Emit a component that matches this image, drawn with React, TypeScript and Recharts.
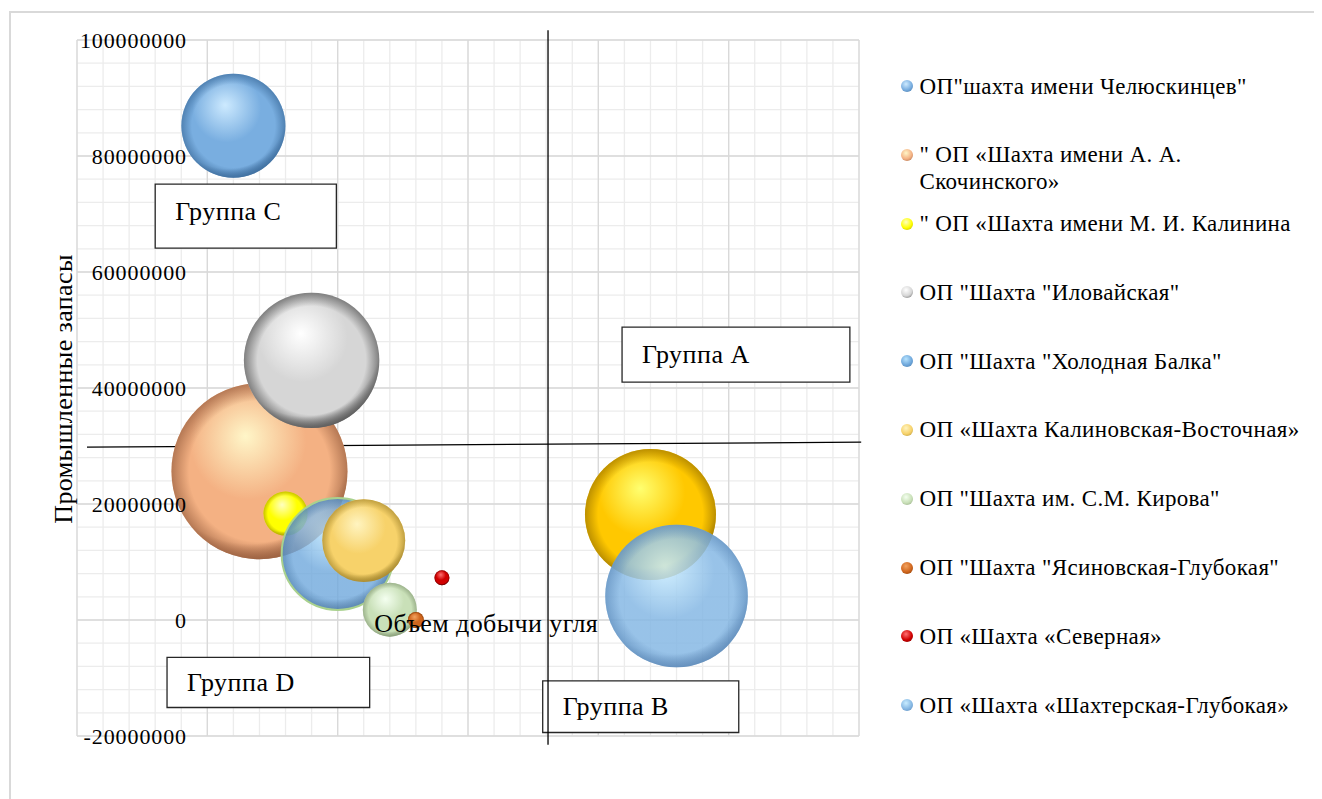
import React from "react";
import {
  ScatterChart,
  Scatter,
  XAxis,
  YAxis,
  ZAxis,
  CartesianGrid,
  ReferenceLine,
  ReferenceArea,
  ReferenceDot,
} from "recharts";

// mines (legend order)
const mineNames = [
  'ОП"шахта имени Челюскинцев"',
  '" ОП «Шахта имени А. А. Скочинского»',
  '" ОП «Шахта имени М. И. Калинина',
  'ОП "Шахта "Иловайская"',
  'ОП "Шахта "Холодная Балка"',
  "ОП «Шахта Калиновская-Восточная»",
  'ОП "Шахта им. С.М. Кирова"',
  'ОП "Шахта "Ясиновская-Глубокая"',
  "ОП «Шахта «Северная»",
  "ОП «Шахта «Шахтерская-Глубокая»",
];
// объем добычи угля (x)
const coalOutput = [100000, 200000, 300000, 400000, 500000, 600000, 700000, 800000, 900000, 1800000];
// промышленные запасы (y)
const reserves = [85200000, 25650000, 18350000, 44760000, 11390000, 13690000, 1780000, 0, 7300000, 4140000];
// bubble size
const bubbleValue = [1745, 5000, 313, 2960, 2025, 1110, 470, 41, 36, 3280];

// the gold bubble on the right has no legend entry
const extraOutput = [1700000];
const extraReserves = [18180000];
const extraValue = [2770];

const X_DOMAIN = [-500000, 2500000];
const Y_DOMAIN = [-20000000, 100000000];
const xMajorTicks = [-500000, 0, 500000, 1000000, 1500000, 2000000, 2500000];
const yMajorTicks = [-20000000, 0, 20000000, 40000000, 60000000, 80000000, 100000000];
const xMinorTicks = Array.from({ length: 31 }, (_, i) => -500000 + i * 100000);
const yMinorTicks = Array.from({ length: 31 }, (_, i) => -20000000 + i * 4000000);

const groupLabels = ["Группа C", "Группа A", "Группа D", "Группа B"];
const groupBoxes = [
  { x1: -200000, x2: 495000, y1: 64100000, y2: 75140000, dy: -5 },
  { x1: 1591000, x2: 2465000, y1: 41010000, y2: 50510000, dy: 0 },
  { x1: -154600, x2: 622800, y1: -15090000, y2: -6460000, dy: 0 },
  { x1: 1286600, x2: 2038700, y1: -19400000, y2: -10480000, dy: 0 },
];

const splitLines = [
  [{ x: 1307000, y: 101700000 }, { x: 1307000, y: -21500000 }],
  [{ x: -461600, y: 29790000 }, { x: 2508400, y: 30660000 }],
];

type Shade = { hi: string; base: string; edge: string; opacity?: number; stroke?: string };

const shades: Shade[] = [
  { hi: "#cdeaff", base: "#79aee0", edge: "#3f6f9f" },
  { hi: "#fff6c8", base: "#f4b183", edge: "#9a6040" },
  { hi: "#ffffc0", base: "#ffff00", edge: "#b0a800" },
  { hi: "#ffffff", base: "#d6d6d6", edge: "#5a5a5a" },
  { hi: "#b8e4ff", base: "#6fa8dc", edge: "#4a7aa8", opacity: 0.8, stroke: "#a9d18e" },
  { hi: "#fff4c0", base: "#f7d26a", edge: "#a88a30" },
  { hi: "#f4fff0", base: "#c9e0b8", edge: "#8aa07a" },
  { hi: "#f3a35f", base: "#d0661e", edge: "#7a3500" },
  { hi: "#ff7070", base: "#d00000", edge: "#6a0000" },
  { hi: "#c8ecff", base: "#86b8e4", edge: "#5a88b8", opacity: 0.85 },
];
const extraShade: Shade = { hi: "#ffff70", base: "#ffc800", edge: "#a07800" };

const FONT = "'Liberation Serif', 'Times New Roman', serif";
const MAX_R = 88;

function Bubble(props: any) {
  const { cx, cy, width, size, shade, id } = props;
  const r = typeof width === "number" ? width / 2 : Math.sqrt((size || 0) / Math.PI);
  const op = shade.opacity ?? 1;
  return (
    <g>
      <defs>
        <radialGradient id={id} cx="45%" cy="36%" r="66%" fx="42%" fy="30%">
          <stop offset="0%" stopColor={shade.hi} />
          <stop offset="50%" stopColor={shade.base} />
          <stop offset="85%" stopColor={shade.base} />
          <stop offset="100%" stopColor={shade.edge} />
        </radialGradient>
        <radialGradient id={`${id}-rim`} cx="50%" cy="50%" r="50%">
          <stop offset="80%" stopColor={shade.edge} stopOpacity={0} />
          <stop offset="100%" stopColor={shade.edge} stopOpacity={0.7} />
        </radialGradient>
      </defs>
      <circle cx={cx} cy={cy} r={r} fill={`url(#${id})`} fillOpacity={op} />
      <circle
        cx={cx}
        cy={cy}
        r={r}
        fill={`url(#${id}-rim)`}
        fillOpacity={op}
        stroke={shade.stroke ?? "none"}
        strokeWidth={shade.stroke ? 2 : 0}
      />
    </g>
  );
}

function NoTick() {
  return <g />;
}

function YTick({ x, y, payload }: any) {
  return (
    <text
      x={x + 110}
      y={y}
      textAnchor="end"
      dominantBaseline="central"
      fontFamily={FONT}
      fontSize={22}
      letterSpacing={0.9}
      fill="#000"
    >
      {payload.value}
    </text>
  );
}

function YTitle({ viewBox }: any) {
  const x = viewBox.x + viewBox.width - 14;
  const y = viewBox.y + viewBox.height / 2 + 1;
  return (
    <text
      x={x}
      y={y}
      transform={`rotate(-90 ${x} ${y})`}
      textAnchor="middle"
      dominantBaseline="central"
      fontFamily={FONT}
      fontSize={26}
      letterSpacing={0.4}
      fill="#000"
    >
      Промышленные запасы
    </text>
  );
}

function GroupLabel({ viewBox, value, dy }: any) {
  return (
    <text
      x={viewBox.x + 20}
      y={viewBox.y + viewBox.height / 2 + dy}
      dominantBaseline="central"
      fontFamily={FONT}
      fontSize={26}
      letterSpacing={0.5}
      fill="#000"
    >
      {value}
    </text>
  );
}

function markerBg(s: Shade) {
  return `radial-gradient(circle at 42% 34%, ${s.hi} 0%, ${s.base} 55%, ${s.edge} 100%)`;
}

// minor gridline positions through the axis scale (falls back to the plot box)
function minorX({ xAxis, offset }: any) {
  if (xAxis && typeof xAxis.scale === "function") return xMinorTicks.map((v) => xAxis.scale(v));
  return xMinorTicks.map((v) => offset.left + ((v - X_DOMAIN[0]) / (X_DOMAIN[1] - X_DOMAIN[0])) * offset.width);
}
function minorY({ yAxis, offset }: any) {
  if (yAxis && typeof yAxis.scale === "function") return yMinorTicks.map((v) => yAxis.scale(v));
  return yMinorTicks.map(
    (v) => offset.top + offset.height - ((v - Y_DOMAIN[0]) / (Y_DOMAIN[1] - Y_DOMAIN[0])) * offset.height
  );
}

export default function App() {
  const series = mineNames.map((name, i) => ({
    name,
    shade: shades[i],
    data: [{ x: coalOutput[i], y: reserves[i], z: bubbleValue[i] }],
  }));
  const extra = extraOutput.map((x, i) => ({ x, y: extraReserves[i], z: extraValue[i] }));

  const renderSeries = (s: { name: string; shade: Shade; data: any[] }, key: string) => (
    <Scatter
      key={key}
      name={s.name}
      data={s.data}
      xAxisId="x"
      yAxisId="y"
      isAnimationActive={false}
      shape={(p: any) => <Bubble {...p} shade={s.shade} id={`grad-${key}`} />}
    />
  );

  return (
    <div style={{ position: "relative", width: 1314, height: 791, fontFamily: FONT }}>
      <div
        style={{
          position: "absolute",
          left: 1,
          top: 3,
          width: 1400,
          height: 900,
          borderLeft: "2px solid #d9d9d9",
          borderTop: "2px solid #d9d9d9",
          boxSizing: "border-box",
        }}
      />
      <div style={{ position: "absolute", left: 0, top: 0 }}>
        <ScatterChart width={1314} height={791} margin={{ top: 32, right: 463, bottom: 63, left: 0 }}>
          <XAxis
            xAxisId="x"
            type="number"
            dataKey="x"
            domain={X_DOMAIN}
            ticks={xMajorTicks}
            interval={0}
            height={0}
            tick={<NoTick />}
            axisLine={false}
            tickLine={false}
          />
          <YAxis
            yAxisId="y"
            type="number"
            dataKey="y"
            domain={Y_DOMAIN}
            ticks={yMajorTicks}
            interval={0}
            width={69}
            axisLine={false}
            tickLine={false}
            tickSize={0}
            tickMargin={0}
            tick={<YTick />}
            label={YTitle}
          />
          <ZAxis type="number" dataKey="z" domain={[0, 5000]} range={[0, Math.PI * MAX_R * MAX_R]} />
          <CartesianGrid
            xAxisId="x"
            yAxisId="y"
            stroke="#ececec"
            strokeWidth={1.3}
            verticalCoordinatesGenerator={minorX}
            horizontalCoordinatesGenerator={minorY}
          />
          <CartesianGrid xAxisId="x" yAxisId="y" stroke="#d9d9d9" strokeWidth={1.3} />

          {groupBoxes.map((b, i) => (
            <ReferenceArea
              key={groupLabels[i]}
              xAxisId="x"
              yAxisId="y"
              x1={b.x1}
              x2={b.x2}
              y1={b.y1}
              y2={b.y2}
              fill="#ffffff"
              fillOpacity={1}
              stroke="#262626"
              strokeWidth={1.3}
              label={(p: any) => <GroupLabel {...p} value={groupLabels[i]} dy={b.dy} />}
            />
          ))}

          {series.slice(0, 9).map((s, i) => renderSeries(s, `s${i}`))}
          {renderSeries({ name: "", shade: extraShade, data: extra }, "extra")}
          {renderSeries(series[9], "s9")}

          {splitLines.map((seg, i) => (
            <ReferenceLine
              key={i}
              xAxisId="x"
              yAxisId="y"
              segment={seg}
              stroke="#000"
              strokeWidth={1.3}
              ifOverflow="visible"
            />
          ))}

          <ReferenceDot
            xAxisId="x"
            yAxisId="y"
            x={1070000}
            y={-470000}
            r={0}
            stroke="none"
            label={{
              value: "Объем добычи угля",
              position: "center",
              fill: "#000",
              fontSize: 26,
              fontFamily: FONT,
              letterSpacing: 0.4,
            }}
          />
        </ScatterChart>
      </div>

      <div style={{ position: "absolute", left: 893, top: 64.5, width: 415 }}>
        {series.map((s) => (
          <div key={s.name} style={{ display: "flex", alignItems: "flex-start", height: 68.8 }}>
            <div
              style={{
                width: 12,
                height: 12,
                borderRadius: "50%",
                marginTop: 7.5,
                marginRight: 6.5,
                flex: "0 0 auto",
                background: markerBg(s.shade),
              }}
            />
            <div style={{ fontSize: 23, lineHeight: "27px", letterSpacing: 0.35, color: "#000", width: 392 }}>
              {s.name}
            </div>
          </div>
        ))}
      </div>
    </div>
  );
}
